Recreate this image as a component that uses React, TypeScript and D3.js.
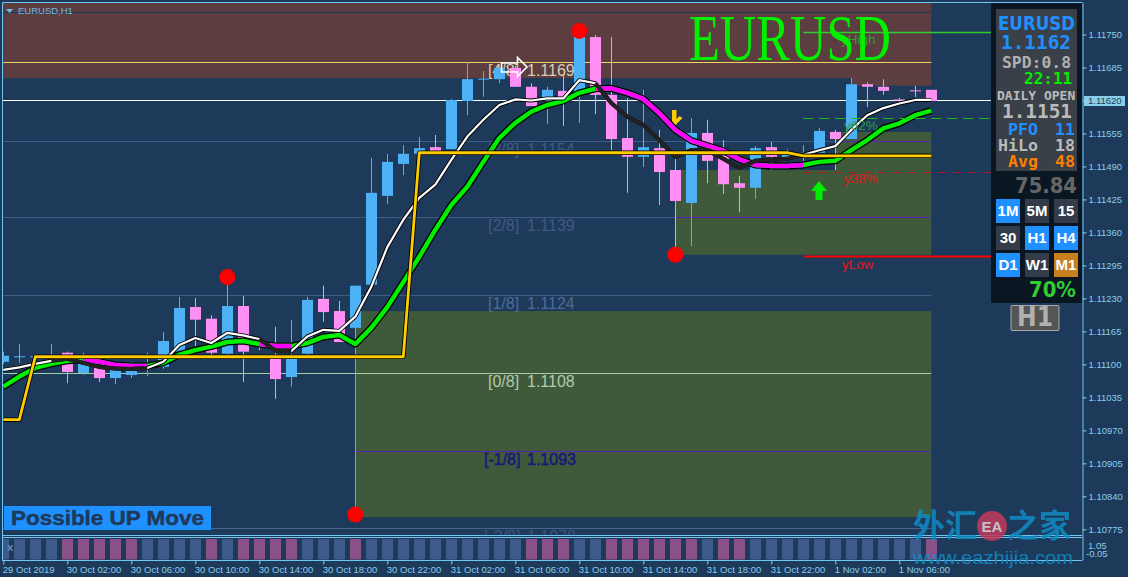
import { useEffect, useRef } from 'react'
import * as d3 from 'd3'

// ─── Data (prices in points, 1 point = 0.00001) ──────────────────────────────

const opens = [111105, 111114, 111115, 111112, 111123, 111083, 111099, 111073, 111079, 111096, 111095, 111125, 111213, 111190, 111121, 111215, 111140, 111113, 111075, 111121, 111229, 111205, 111172, 111257, 111432, 111495, 111515, 111528, 111524, 111619, 111661, 111662, 111684, 111647, 111625, 111639, 111637, 111745, 111631, 111546, 111509, 111526, 111483, 111418, 111556, 111511, 111457, 111448, 111528, 111507, 111511, 111517, 111558, 111544, 111652, 111647, 111622, 111640, 111641]
const highs = [111125, 111140, 111119, 111140, 111125, 111123, 111105, 111101, 111105, 111123, 111164, 111233, 111231, 111197, 111257, 111235, 111144, 111174, 111188, 111233, 111255, 111225, 111255, 111507, 111515, 111532, 111548, 111552, 111623, 111696, 111678, 111688, 111688, 111654, 111647, 111670, 111745, 111749, 111745, 111625, 111641, 111562, 111507, 111585, 111582, 111542, 111471, 111530, 111538, 111524, 111532, 111566, 111562, 111664, 111656, 111662, 111625, 111649, 111641]
const lows = [111101, 111103, 111111, 111109, 111063, 111079, 111065, 111061, 111073, 111077, 111091, 111119, 111136, 111117, 111117, 111065, 111128, 111032, 111056, 111117, 111184, 111144, 110810, 111253, 111416, 111473, 111515, 111515, 111524, 111591, 111627, 111654, 111647, 111609, 111574, 111570, 111576, 111593, 111522, 111438, 111489, 111414, 111325, 111333, 111457, 111436, 111400, 111426, 111483, 111503, 111497, 111517, 111483, 111544, 111607, 111631, 111617, 111627, 111619]
const closes = [111117, 111116, 111116, 111114, 111085, 111103, 111073, 111095, 111099, 111098, 111146, 111211, 111188, 111123, 111215, 111125, 111136, 111071, 111113, 111227, 111203, 111144, 111255, 111438, 111499, 111515, 111526, 111515, 111621, 111662, 111663, 111684, 111647, 111609, 111641, 111621, 111745, 111631, 111544, 111509, 111528, 111479, 111422, 111556, 111501, 111455, 111448, 111526, 111509, 111517, 111517, 111560, 111544, 111652, 111647, 111639, 111620, 111638, 111619]

const fastMA = [111089, 111094, 111101, 111107, 111111, 111103, 111095, 111092, 111091, 111093, 111105, 111138, 111152, 111142, 111162, 111157, 111150, 111127, 111126, 111155, 111168, 111166, 111194, 111253, 111331, 111385, 111428, 111454, 111503, 111549, 111582, 111611, 111622, 111620, 111624, 111624, 111660, 111654, 111615, 111588, 111572, 111542, 111509, 111522, 111522, 111505, 111487, 111501, 111503, 111505, 111513, 111522, 111530, 111562, 111591, 111605, 111614, 111621, 111621]
const slowMA = [111056, 111076, 111093, 111101, 111107, 111109, 111105, 111099, 111097, 111097, 111103, 111119, 111128, 111135, 111144, 111146, 111140, 111136, 111136, 111142, 111154, 111158, 111140, 111172, 111213, 111262, 111312, 111365, 111414, 111450, 111499, 111546, 111576, 111598, 111611, 111619, 111635, 111643, 111644, 111635, 111623, 111595, 111562, 111541, 111531, 111521, 111504, 111493, 111491, 111491, 111493, 111499, 111501, 111522, 111542, 111565, 111575, 111591, 111600]
const trendStop = [110991, 110991, 111115, 111115, 111115, 111115, 111115, 111115, 111115, 111115, 111115, 111115, 111115, 111115, 111115, 111115, 111115, 111115, 111115, 111115, 111115, 111115, 111115, 111115, 111115, 111115, 111517, 111517, 111517, 111517, 111517, 111517, 111517, 111517, 111517, 111517, 111517, 111517, 111517, 111517, 111517, 111517, 111517, 111517, 111517, 111517, 111517, 111517, 111517, 111517, 111511, 111511, 111511, 111511, 111511, 111511, 111511, 111511, 111511]

const fastDown = [[3, 9], [16, 18], [37, 50]]
const slowDown = [[5, 9], [16, 18], [37, 50]]

// 1 = pink, 0 = blue, lower panel
const lowerBias = [0, 0, 0, 0, 1, 1, 1, 1, 1, 0, 0, 0, 0, 1, 0, 1, 1, 1, 1, 0, 0, 0, 1, 0, 0, 0, 0, 0, 0, 0, 0, 0, 0, 1, 1, 1, 0, 0, 1, 1, 1, 1, 1, 1, 0, 1, 1, 0, 0, 0, 0, 0, 0, 0, 0, 0, 0, 0, 1]

const priceTicks = [111750, 111685, 111620, 111555, 111490, 111425, 111360, 111295, 111230, 111165, 111100, 111035, 110970, 110905, 110840, 110775]
const timeTicks = [0, 4, 8, 12, 16, 20, 24, 28, 32, 36, 40, 44, 48, 52, 56]
const timeLabels = ['29 Oct 2019', '30 Oct 02:00', '30 Oct 06:00', '30 Oct 10:00', '30 Oct 14:00', '30 Oct 18:00', '30 Oct 22:00', '31 Oct 02:00', '31 Oct 06:00', '31 Oct 10:00', '31 Oct 14:00', '31 Oct 18:00', '31 Oct 22:00', '1 Nov 02:00', '1 Nov 06:00']

const fractalBars = [14, 22, 36, 42]
const fractalPrices = [111272, 110804, 111757, 111316]

const levelNames = ['[4/8]', '[3/8]', '[2/8]', '[1/8]', '[0/8]', '[-1/8]', '[-2/8]']
const levelValues = ['1.1169', '1.1154', '1.1139', '1.1124', '1.1108', '1.1093', '1.1078']
const levelPrices = [111695, 111541, 111390, 111237, 111083, 110930, 110777]
const levelColors = ['#f0d468', '#3f5c88', '#3f5c88', '#3f5c88', '#a4cfa6', '#5a22b4', '#47658e']
const levelTextColors = ['#d8cdb8', '#41597e', '#41597e', '#4d6c97', '#b5c9ac', '#18187a', '#3a5478']

const currentPrice = 111620
const topLine = 111794
const dayHigh = 111755
const day62 = 111585
const day38 = 111480
const dayLow = 111314

const tfLabels = ['1M', '5M', '15', '30', 'H1', 'H4', 'D1', 'W1', 'M1']
const tfColors = ['#1e90ff', '#333c48', '#333c48', '#333c48', '#1e90ff', '#1e90ff', '#1e90ff', '#333c48', '#c8801f']

// ─── Constants ────────────────────────────────────────────────────────────────

const W = 1128
const H = 577
const BG = '#1e3a5a'
const SKY = '#87ceeb'
const BLUE = '#4eb1f6'
const PINK = '#ff8ff5'
const SANS = "'Liberation Sans', sans-serif"
const MONO = "'DejaVu Sans Mono', monospace"
const BOLD = "'DejaVu Sans', sans-serif"

type G = d3.Selection<SVGGElement, unknown, null, undefined>

function label(g: G, x: number, y: number, s: string, fill: string, size: number, font = SANS, weight = 'normal', anchor = 'start', len?: number) {
  const t = g.append('text')
    .attr('x', x).attr('y', y)
    .attr('fill', fill)
    .attr('font-size', size)
    .attr('font-family', font)
    .attr('font-weight', weight)
    .attr('text-anchor', anchor)
    .text(s)
  if (len) t.attr('textLength', len).attr('lengthAdjust', 'spacingAndGlyphs')
  return t
}

// ─── App ──────────────────────────────────────────────────────────────────────

export default function App() {
  const svgRef = useRef<SVGSVGElement>(null)

  useEffect(() => {
    if (!svgRef.current) return
    const svg = d3.select(svgRef.current)
    svg.selectAll('*').remove()

    const x = d3.scaleLinear().domain([0, 58]).range([3.3, 931.3])
    const y = d3.scaleLinear().domain([110775, 111750]).range([529.3, 34.5])
    const px = (v: number) => Math.round(y(v)) + 0.5

    svg.append('rect').attr('width', W).attr('height', H).attr('fill', BG)
    svg.append('defs').append('clipPath').attr('id', 'plot')
      .append('rect').attr('x', 3).attr('y', 3).attr('width', 1079).attr('height', 532)

    const plot = svg.append('g').attr('clip-path', 'url(#plot)') as unknown as G

    // Zones
    const zone = (k0: number, k1: number, p0: number, p1: number, fill: string) =>
      plot.append('rect')
        .attr('x', x(k0)).attr('y', y(p0))
        .attr('width', x(k1) - x(k0)).attr('height', y(p1) - y(p0))
        .attr('fill', fill)
    zone(-1, 58, 111812, 111664, '#5c3e40')
    zone(53, 58, 111664, 111649, '#5c3e40')
    zone(22, 58, 111205, 110799, '#3e5a3b')
    zone(42, 58, 111483, 111316, '#3e5a3b')
    zone(52, 58, 111558, 111483, '#3e5a3b')

    // Levels
    const hline = (k0: number, p: number, stroke: string, w = 1, dash?: string, k1 = 58) => {
      const l = plot.append('line')
        .attr('x1', x(k0)).attr('x2', x(k1))
        .attr('y1', px(p)).attr('y2', px(p))
        .attr('stroke', stroke).attr('stroke-width', w)
      if (dash) l.attr('stroke-dasharray', dash)
    }
    hline(-1, topLine, '#1a3858')
    levelPrices.forEach((p, i) => hline(i === 5 ? 22 : 0, p, levelColors[i]))
    hline(42, 111390, '#5a22b4')
    hline(52, 111541, '#5a22b4')

    levelNames.forEach((n, i) => {
      const ty = y(levelPrices[i]) + 14
      const a = label(plot, n.startsWith('[-') ? 484 : 488, ty, n, levelTextColors[i], 16)
      const b = label(plot, 527, ty, levelValues[i], levelTextColors[i], 16)
      // the -1/8 label is printed twice in the original and reads heavier
      if (i === 5) {
        a.attr('stroke', levelTextColors[i]).attr('stroke-width', 0.5)
        b.attr('stroke', levelTextColors[i]).attr('stroke-width', 0.5)
      }
    })

    plot.append('line').attr('x1', 2).attr('x2', 1082).attr('y1', px(currentPrice)).attr('y2', px(currentPrice))
      .attr('stroke', '#ffffff').attr('stroke-width', 1)

    // Candles
    opens.forEach((o, i) => {
      const c = closes[i]
      const col = c >= o ? BLUE : PINK
      const cx = Math.round(x(i)) + 0.5
      plot.append('line')
        .attr('x1', cx).attr('x2', cx)
        .attr('y1', y(highs[i])).attr('y2', y(lows[i]))
        .attr('stroke', col)
      plot.append('rect')
        .attr('x', cx - 5.5).attr('width', 11)
        .attr('y', y(Math.max(o, c)))
        .attr('height', Math.max(Math.abs(y(o) - y(c)), 1))
        .attr('fill', col)
    })

    // Moving averages
    const lineGen = d3.line<number>().x((_, i) => x(i)).y((d) => y(d))
    const maPath = (vals: number[], stroke: string, w: number) =>
      plot.append('path')
        .attr('d', lineGen(vals))
        .attr('fill', 'none').attr('stroke', stroke).attr('stroke-width', w)
        .attr('stroke-linejoin', 'round')
    const segPath = (vals: number[], from: number, to: number, stroke: string, w: number) =>
      plot.append('path')
        .attr('d', d3.line<number>().x((_, i) => x(i + from)).y((d) => y(d))(vals.slice(from, to + 1)))
        .attr('fill', 'none').attr('stroke', stroke).attr('stroke-width', w)
        .attr('stroke-linejoin', 'round')

    maPath(slowMA, '#000000', 7)
    maPath(slowMA, '#00ee00', 4.5)
    slowDown.forEach(([a, b]) => segPath(slowMA, a, b, '#ff00ff', 4.5))

    maPath(fastMA, '#000000', 4)
    maPath(fastMA, '#ffffff', 2.2)
    fastDown.forEach(([a, b]) => segPath(fastMA, a, b, '#222222', 4))

    maPath(trendStop, '#000000', 4.5)
    maPath(trendStop, '#ffcc00', 2.8)

    // Fractal dots
    fractalBars.forEach((k, i) => {
      plot.append('circle').attr('cx', x(k)).attr('cy', y(fractalPrices[i])).attr('r', 8).attr('fill', '#ff0000')
    })

    // Arrows
    plot.append('path')
      .attr('d', 'M501.5 63 H517.5 V57.5 L527 67 L517.5 76.5 V72 H501.5 Z')
      .attr('fill', 'none').attr('stroke', '#ffffff').attr('stroke-width', 1.6)
    plot.append('path')
      .attr('d', 'M672 110 H676.5 V119 L679.5 116 L682.5 118 L675.5 125 L672 121 Z')
      .attr('fill', '#ffcc00')
    plot.append('path')
      .attr('d', 'M819 181 L827 191 H822.5 V200 H815.5 V191 H811 Z')
      .attr('fill', '#00ee00')

    // Day levels
    const dayLine = (p: number, stroke: string, w: number, dash?: string) => hline(50, p, stroke, w, dash, 70)
    dayLine(dayHigh, '#2fcc2f', 1.5)
    dayLine(day62, '#22b822', 1, '10,6')
    dayLine(day38, '#b01818', 1, '8,7')
    dayLine(dayLow, '#ff0000', 2)
    label(plot, 841, 44, 'yHigh', '#3c9a3c', 13.5)
    label(plot, 844, 130, 'y62%', '#2f9a3f', 13.5)
    label(plot, 844, 183, 'y38%', '#e01818', 13.5)
    label(plot, 842, 269, 'yLow', '#e01818', 13.5)

    // Big title
    label(plot, 689, 60, 'EURUSD', '#00f000', 66, "'Liberation Serif', serif", 'normal', 'start', 202)

    // Possible UP Move
    plot.append('rect').attr('x', 4).attr('y', 506).attr('width', 207).attr('height', 24).attr('fill', '#1e90ff')
    label(plot, 11, 525, 'Possible UP Move', BG, 20, SANS, 'bold', 'start', 193)
      .attr('stroke', BG).attr('stroke-width', 0.5)

    // Top-left symbol
    plot.append('path').attr('d', 'M6 9 H13 L9.5 13 Z').attr('fill', '#6cc0ee')
    label(plot, 18, 14, 'EURUSD,H1', '#76b6e0', 9.5)

    // Right panel
    const panel = svg.append('g') as unknown as G
    panel.append('rect').attr('x', 991).attr('y', 3).attr('width', 91).attr('height', 300).attr('fill', '#0a1622')
    panel.append('rect').attr('x', 996).attr('y', 9).attr('width', 81).attr('height', 162).attr('fill', '#3a4048')
    label(panel, 998, 29.5, 'EURUSD', '#1e90ff', 19, BOLD, 'bold', 'start', 77)
    label(panel, 1001, 49, '1.1162', '#1e90ff', 19.4, MONO, 'bold')
    label(panel, 1002, 67.5, 'SPD:0.8', '#b0b0b0', 16.4, MONO, 'bold')
    label(panel, 1024, 84, '22:11', '#00ee00', 16, MONO, 'bold')
    label(panel, 997, 100, 'DAILY OPEN', '#bbbbbb', 13, MONO, 'bold')
    label(panel, 1002, 117.5, '1.1151', '#bbbbbb', 19.4, MONO, 'bold')
    label(panel, 1008, 134.5, 'PFO', '#1e90ff', 16.6, MONO, 'bold')
    label(panel, 1055, 134.5, '11', '#1e90ff', 16.6, MONO, 'bold')
    label(panel, 998, 151, 'HiLo', '#bbbbbb', 16.6, MONO, 'bold')
    label(panel, 1055, 151, '18', '#bbbbbb', 16.6, MONO, 'bold')
    label(panel, 1008, 167, 'Avg', '#ff7f00', 16.6, MONO, 'bold')
    label(panel, 1055, 167, '48', '#ff7f00', 16.6, MONO, 'bold')
    label(panel, 1015, 193, '75.84', '#666666', 21, BOLD, 'bold', 'start', 62)

    tfLabels.forEach((t, i) => {
      const bx = 996 + (i % 3) * 29
      const by = 199 + Math.floor(i / 3) * 27
      panel.append('rect').attr('x', bx).attr('y', by).attr('width', 24).attr('height', 24).attr('fill', tfColors[i])
      label(panel, bx + 12, by + 17, t, '#ffffff', 15, SANS, 'bold', 'middle')
    })

    label(panel, 1029, 297, '70%', '#32cd32', 21, BOLD, 'bold', 'start', 47)
    panel.append('rect').attr('x', 1011).attr('y', 305.5).attr('width', 48).attr('height', 25).attr('rx', 1)
      .attr('fill', '#555555').attr('stroke', '#aaaaaa')
    label(panel, 1017, 326, 'H1', '#b0b0b0', 26, BOLD, 'bold', 'start', 36)

    // Lower panel
    const low = svg.append('g') as unknown as G
    low.append('clipPath').attr('id', 'lowclip').append('rect').attr('x', 3).attr('y', 538).attr('width', 1079).attr('height', 23)
    low.append('g').attr('clip-path', 'url(#lowclip)')
      .selectAll('rect').data(lowerBias).join('rect')
      .attr('x', (_, i) => Math.round(x(i)) - 5).attr('width', 11)
      .attr('y', 539).attr('height', 20.5)
      .attr('fill', (d) => (d ? '#8c5088' : '#3e5a8a'))
    label(low, 7, 551, 'X', '#87b6d8', 9.5)

    // Frame
    const frame = (x1: number, y1: number, x2: number, y2: number) =>
      svg.append('line').attr('x1', x1).attr('y1', y1).attr('x2', x2).attr('y2', y2).attr('stroke', '#70c6f0')
    frame(2.5, 2.5, 1082, 2.5)
    frame(2.5, 2.5, 2.5, 561)
    frame(2, 535.5, 1082, 535.5)
    frame(2, 537.5, 1082, 537.5)
    frame(2, 560.5, 1082, 560.5)

    // Price axis
    const priceAxis = svg.append('g').attr('transform', 'translate(1082.5,0)')
      .call(
        d3.axisRight(y).tickValues(priceTicks).tickSize(4).tickPadding(2)
          .tickFormat((d) => (+d / 100000).toFixed(5)),
      )
    priceAxis.select('.domain').attr('stroke', '#70c6f0').attr('d', 'M0.5,2.5V560.5')
    priceAxis.selectAll('.tick line').attr('stroke', SKY)
    priceAxis.selectAll('text').attr('fill', SKY).attr('font-size', 9.5).attr('font-family', SANS)

    const readout = svg.append('g') as unknown as G
    readout.append('rect').attr('x', 1084).attr('y', 96).attr('width', 41).attr('height', 10).attr('fill', SKY)
    label(readout, 1088, 104.2, (currentPrice / 100000).toFixed(5), BG, 9.5)

    label(readout, 1088, 549, '1.05', SKY, 9.5)
    label(readout, 1086, 557, '-0.05', SKY, 9.5)

    // Time axis
    const timeAxis = svg.append('g').attr('transform', 'translate(0,560.5)')
      .call(
        d3.axisBottom(x).tickValues(timeTicks).tickSize(4).tickPadding(2)
          .tickFormat((_, i) => timeLabels[i]),
      )
    timeAxis.select('.domain').remove()
    timeAxis.selectAll('.tick line').attr('stroke', SKY)
    timeAxis.selectAll('text')
      .attr('fill', SKY).attr('font-size', 9.5).attr('font-family', SANS)
      .attr('text-anchor', 'start').attr('dx', -1)

    // Watermark
    const mark = svg.append('g').attr('opacity', 0.85) as unknown as G
    const CJK = "'Noto Sans CJK SC', sans-serif"
    label(mark, 913, 537, '外汇', '#0f8cc4', 32, CJK, 'bold')
    label(mark, 1007, 537, '之家', '#0f8cc4', 32, CJK, 'bold')
    mark.append('circle').attr('cx', 992).attr('cy', 526).attr('r', 15).attr('fill', '#c23a5c')
    label(mark, 992, 532, 'EA', '#e0d8dc', 15, SANS, 'bold', 'middle')
    label(mark, 913, 564, 'www.eazhijia.com', '#0f8cc4', 18.5, SANS, 'normal', 'start', 160)
  }, [])

  return (
    <div style={{ position: 'fixed', left: 0, top: 0, width: W, height: H, background: BG }}>
      <svg ref={svgRef} width={W} height={H} style={{ display: 'block' }} />
    </div>
  )
}
